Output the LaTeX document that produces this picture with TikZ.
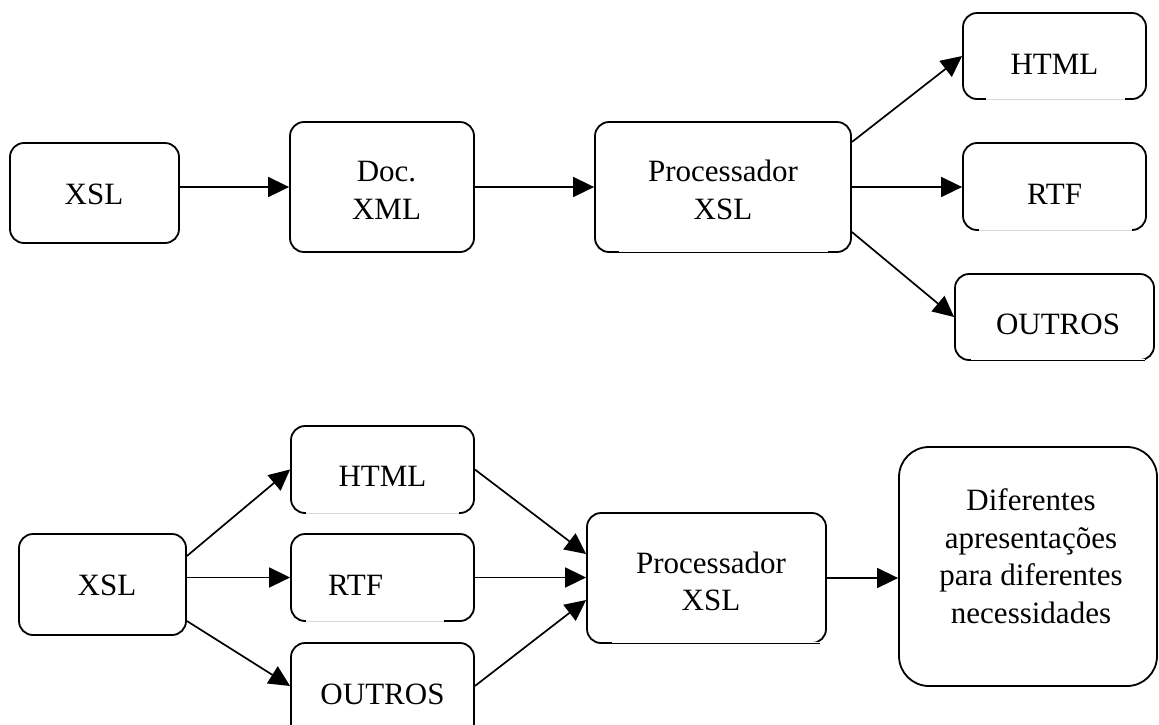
\documentclass[tikz,border=0pt]{standalone}
\usepackage{fontspec}
\setmainfont{Liberation Serif}
\usetikzlibrary{arrows.meta}
\begin{document}
\begin{tikzpicture}[x=1pt,y=-1pt,
  box/.style={draw, line width=1.8pt, rounded corners=14pt, inner sep=0pt},
  txt/.style={font=\fontsize{31}{37.5}\selectfont, align=center, inner sep=0pt},
  arr/.style={line width=1.7pt, -{Triangle[length=21pt,width=20pt]}},
  cover/.style={draw=white, line width=2.8pt},
  thinedge/.style={draw=black, line width=0.9pt},
  faintedge/.style={draw=black!15, line width=0.8pt}
]
\useasboundingbox (0,0) rectangle (1159,724);
\clip (0,0) rectangle (1159,724);

% top row
\node[box, minimum width=169pt, minimum height=100pt,
  label={[txt,xshift=-0.5pt,yshift=-1.5pt]center:XSL}] (xsl1) at (94.5,193) {};
\node[box, minimum width=184pt, minimum height=130pt,
  label={[txt,xshift=4.5pt,yshift=-3.5pt]center:Doc.\\XML}] (doc) at (382,187) {};
\node[box, minimum width=256pt, minimum height=130pt,
  label={[txt,xshift=0pt,yshift=-3pt]center:Processador\\XSL}] (proc1) at (723,187) {};
\node[box, minimum width=183pt, minimum height=86pt,
  label={[txt,yshift=-8pt]center:HTML}] (html1) at (1054.5,56) {};
\node[box, minimum width=183pt, minimum height=87pt,
  label={[txt,yshift=-8pt]center:RTF}] (rtf1) at (1054.5,186.5) {};
\node[box, minimum width=199pt, minimum height=86pt,
  label={[txt,xshift=3.5pt,yshift=-7pt]center:OUTROS}] (out1) at (1054.5,317) {};

% bottom row
\node[box, minimum width=167pt, minimum height=101pt,
  label={[txt,xshift=4.5pt,yshift=-0.5pt]center:XSL}] (xsl2) at (102.5,584.5) {};
\node[box, minimum width=183pt, minimum height=87pt,
  label={[txt,yshift=-6.5pt]center:HTML}] (html2) at (382.5,469.5) {};
\node[box, minimum width=183pt, minimum height=87pt,
  label={[txt,xshift=-27pt,yshift=-7.5pt]center:RTF}] (rtf2) at (382.5,577.5) {};
\node[box, minimum width=183pt, minimum height=100pt,
  label={[txt,yshift=-1pt]center:OUTROS}] (out2) at (382.5,693) {};
\node[box, minimum width=239pt, minimum height=130pt,
  label={[txt,xshift=4.5pt,yshift=-3.5pt]center:Processador\\XSL}] (proc2) at (706.5,578) {};
\node[box, rounded corners=30pt, minimum width=258pt, minimum height=239pt,
  label={[txt,xshift=3pt,yshift=10.5pt]center:Diferentes\\apresentações\\para diferentes\\necessidades}] (dif) at (1028,566.5) {};

% faint / thin middle parts of some bottom edges
\foreach \n/\a/\b/\s in {html1/-68.5/70.5/faintedge, rtf1/-75.5/77.5/faintedge,
    out1/-83.5/90.5/thinedge, proc1/-104/105/thinedge,
    html2/-76.5/76.5/faintedge, rtf2/-76.5/61.5/faintedge, proc2/-94.5/113.5/thinedge}{
  \draw[cover] ([xshift=\a pt,yshift=0.9pt]\n.south) -- ([xshift=\b pt,yshift=0.9pt]\n.south);
  \draw[\s] ([xshift=\a pt,yshift=0.9pt]\n.south) -- ([xshift=\b pt,yshift=0.9pt]\n.south);
}

% connectors top
\draw[arr] (xsl1.east |- doc.west) -- (doc.west);
\draw[arr] (doc.east) -- (proc1.west);
\draw[arr] ([yshift=45pt]proc1.east) -- (html1.west);
\draw[arr] (proc1.east) -- (proc1.east -| rtf1.west);
\draw[arr] ([yshift=-45pt]proc1.east) -- (out1.west);

% connectors bottom
\draw[arr] ([yshift=28.5pt]xsl2.east) -- (html2.west);
\draw[arr] (xsl2.east |- rtf2.west) -- (rtf2.west);
\draw[arr] ([yshift=-36.5pt]xsl2.east) -- ([yshift=7pt]out2.west);
\draw[arr] (html2.east) -- ([yshift=24pt]proc2.west);
\draw[arr] (rtf2.east) -- (rtf2.east -| proc2.west);
\draw[arr] ([yshift=7pt]out2.east) -- ([yshift=-22pt]proc2.west);
\draw[arr] (proc2.east) -- (proc2.east -| dif.west);
\end{tikzpicture}
\end{document}
